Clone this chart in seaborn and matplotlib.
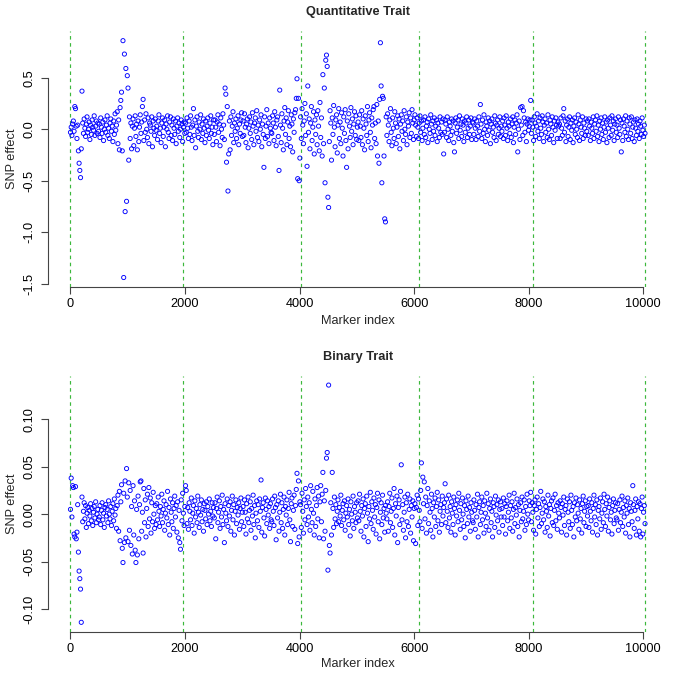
import numpy as np
import pandas as pd
import seaborn as sns
from matplotlib import pyplot as plt

# chromosome boundaries (marker index) drawn as dashed green lines
chrom_bounds = [0, 1970, 4030, 6080, 8070, 10030]
n_markers = 10030

# SNP effects, quantitative trait (units of 0.01), read left to right
quant_effect = [
    -3, 2, -6, 5, 8, -2, 22, 20, 3, -9, 4, -21, -33, -40, -47, -19, 37, 6, -4, 10, 1, -7, 5, 12, -3, 0, 7, -10, 4, -5, 9, 2, -1, 13, -6, 3, 8, -4, 6, -2,
    5, -8, 11, 2, -4, 7, -11, 0, 9, -3, 4, 13, -6, 1, -9, 6, 10, -2, 3, -12, 8, -5, 15, -1, 4, 17, -14, 9, -20, 21, 28, 36, -21, 86, -144, 73, -80, 59, -70, 52,
    40, -30, 12, -9, 6, -19, 3, 10, -16, 1, 13, -7, 5, -20, 8, -12, 2, 14, -4, 7, 22, 29, -11, 9, -3, 15, 0, -8, 11, -14, 6, 4, -2, 12, -17, 8, 1, -6, 10, -1,
    3, -10, 8, 14, -4, 1, -13, 6, 11, -7, 2, 9, -17, 5, 0, 13, -3, -9, 7, 12, -6, 4, -11, 10, 1, -5, 8, -14, 3, 11, -2, 6, -8, 0, 9, 5, -12, 2, 7, -4,
    6, -3, 11, 1, -9, 8, -5, 13, 2, -11, 4, 20, -6, 9, -18, 3, 12, -2, -8, 7, 0, 14, -10, 5, -4, 10, 1, -13, 8, -6, 3, 11, -1, -9, 6, 13, -4, 2, -15, 9,
    -5, 9, 2, -12, 7, 14, -3, 5, -16, 11, 0, -8, 15, 4, -10, 40, 34, -32, 22, -60, -24, 8, -20, 12, -6, 3, 17, -13, 6, -2, 10, -9, 1, 13, -15, 5, -4, 9, 16, -7,
    8, -6, 15, 2, -13, 5, 10, -18, 1, 12, -4, 7, -10, 16, 3, -15, 6, 11, -2, 18, -8, 4, -12, 9, 0, 14, -17, 5, -5, -37, 12, -9, 3, 19, -7, 6, -14, 11, 1, -3,
    -4, 13, 6, -11, 17, 2, -16, 9, 12, -7, -40, 38, 4, -13, 15, 1, -20, 8, 21, -5, 11, -15, 7, 18, -9, 3, -17, 14, 5, -22, 10, -3, 16, 19, 30, 49, -48, 30, -50, -28,
    12, -9, 20, 4, -14, 8, 25, -6, 15, -36, 42, -3, 10, -19, 6, 22, -11, 2, 17, -24, 9, -5, 14, -15, 18, 3, -21, 26, -8, 11, -26, 53, -14, 40, -52, 67, 72, 61, -66, -76,
    -12, 18, 6, -30, 11, -5, 23, 2, -17, 9, 14, -23, 4, 20, -9, 7, -14, 16, 1, -26, 12, -4, 19, -11, -37, 8, -19, 15, 3, -8, 21, -2, 10, -15, 5, 17, -6, 13, -10, 2,
    7, -11, 14, 3, -8, 18, -15, 10, 1, -20, 13, 5, -6, 22, -12, 9, 16, -3, -18, 11, 4, 19, 22, -9, 6, -14, 24, -26, 8, -33, 29, 84, 42, -52, 32, 30, -26, -87, -90, 12,
    -6, 15, 4, -12, 9, 20, -3, -16, 11, 1, -9, 17, 6, -14, 2, 13, -7, 10, -19, 5, 14, -2, 8, -11, 18, 0, -5, 12, -15, 7, 3, 16, -8, 11, -4, 19, 6, -10, 9, 14,
    4, -7, 11, 2, -9, 6, 13, -3, 8, -11, 1, 9, -5, 12, -8, 3, 7, -13, 10, 0, -4, 14, 5, -10, 8, -2, 11, -6, 3, 9, -12, 6, 1, -8, 12, -3, 7, -5, 10, -24,
    -3, 9, 5, -8, 12, 0, -11, 7, 3, -6, 10, -2, 8, -13, -22, 6, 11, -4, 2, 9, -9, 13, -1, 5, -7, 10, 4, -12, 8, -3, 6, 12, -8, 1, 9, -5, 3, 11, -10, 7,
    6, -5, 10, 1, -10, 8, 3, -7, 12, -2, 24, 5, -9, 9, -4, 14, 0, -12, 7, 3, -6, 11, -1, 8, -14, 5, 10, -3, 2, -8, 13, 6, -11, 4, 9, -5, 1, 12, -7, 3,
    -2, 8, -9, 11, 4, -6, 13, 1, -11, 7, 3, -4, 10, -8, 5, 12, -13, 2, 9, -5, 6, 14, -22, 0, 8, -10, 21, 4, 22, -6, 18, 11, -3, 7, -12, 5, 10, -1, 3, 9,
    28, -4, 9, 2, -11, 12, 6, -7, 3, 15, -2, 8, -9, 11, 1, -5, 13, 7, -12, 4, 10, -3, 6, -8, 14, 0, -10, 9, 5, -6, 12, 2, -13, 8, -1, 11, 4, -9, 7, 3,
    5, -9, 11, 1, -6, 13, 20, -3, 8, -12, 4, 10, -7, 2, 12, -10, 6, -1, 9, -13, 3, 11, -5, 7, 0, -8, 14, 5, -11, 9, 2, -4, 12, -9, 6, 1, -6, 10, -2, 8,
    -6, 10, 3, -11, 7, 1, -4, 12, -9, 5, 9, -2, 13, -7, 4, -12, 8, 0, 11, -5, 6, -10, 2, 12, -3, 7, -13, 9, 1, -8, 11, 4, -6, 13, -1, 8, -11, 5, 10, -3,
    4, -8, 12, 1, -5, 9, -22, 6, -11, 10, 3, -3, 13, -7, 8, 0, -10, 11, 5, -4, 12, -9, 2, 7, -12, 9, 1, -6, 10, -2, 5, -9, 8, 3, -5, 11, -1, -7, 4, -4,
]

# SNP effects, binary trait (units of 0.001)
binary_effect = [
    5, 38, -3, 30, 28, -21, -24, 29, -26, -19, 10, -40, -60, -68, -79, -114, 18, -8, 3, 12, -5, 9, -14, 1, 7, -10, 4, -2, 11, -7, 6, -12, 2, 8, -4, 13, -9, 0, 5, -6,
    -3, 9, -11, 4, 12, -6, 1, -14, 7, 10, -2, 5, -9, 14, 0, -5, 8, -12, 3, 11, -7, 16, -1, 6, -15, 9, 20, -18, 24, -28, 13, 31, -36, -51, 22, -30, 35, -25, 48, 18,
    -29, 33, -17, 25, -33, 8, -42, 30, -22, 14, -38, -51, 5, -43, 19, -26, 10, 34, 35, -18, 2, -41, 27, -9, 15, -24, 6, 21, -13, 28, -5, 17, -20, 12, -8, 23, 0, -15, 9, -11,
    11, -6, 18, 3, -13, 8, -2, 21, -9, 5, 14, -17, 1, 10, -4, 24, -11, 7, -22, 16, 2, -8, 12, -15, 6, 19, -3, 9, -19, 13, -25, 4, -30, -37, 15, -7, 22, 1, -12, 8,
    30, 25, -10, 7, -16, 12, 3, -6, 17, -12, 1, 9, -20, 14, -3, 6, -9, 19, 2, -14, 10, -1, 15, -8, 5, -18, 11, 4, -5, 13, -11, 8, 0, 16, -7, 3, -13, 12, -2, 7,
    -4, 12, -26, 6, 18, -9, 2, 14, -15, 8, -3, 20, -11, 5, -30, 11, 1, -7, 16, -13, 9, -2, 13, -18, 4, 19, -6, 10, -22, 3, 15, -10, 7, -1, 12, -16, 6, 17, -8, 2,
    8, -13, 15, 2, -21, 11, -5, 18, -9, 4, 13, -17, 6, -2, 20, -11, 9, -25, 1, 14, -7, 10, -14, 16, 3, 36, -19, 7, 12, -4, -23, 17, 5, -10, 14, -1, 8, -15, 11, -6,
    -8, 16, 3, -12, 19, 7, -27, 10, -4, 14, -18, 2, 21, -9, 12, -15, 5, 18, -22, 8, -1, 15, -11, 6, 23, -6, -29, 11, 17, -13, 4, 20, -16, 9, 26, 43, -31, 35, -24, 13,
    10, -14, 22, 3, -20, 15, -6, 27, 8, -11, 18, -3, 12, -17, 30, 5, -9, 24, 1, -22, 16, -13, 9, 28, -5, 19, -25, 13, 30, -8, 21, 44, -26, 14, -18, 25, 59, 65, -59, 136,
    -33, -41, 12, -22, 44, 6, -14, 18, -5, 10, -10, 3, 15, -8, 7, -2, 20, -12, 4, 11, -6, 14, -17, 1, 9, -3, 16, -11, 5, -23, 13, 0, -7, 19, -15, 8, 2, -9, 12, -4,
    14, -7, 21, 3, -18, 9, -2, 16, -24, 6, 11, -13, 19, 1, -29, 8, -5, 23, -10, 13, 4, -16, 17, -3, 10, -21, 7, 22, -8, 15, -26, 2, 12, -11, 20, -4, 6, -19, 9, 1,
    -5, 13, -18, 8, 22, -9, 3, 17, -14, 6, 27, -22, 11, -2, 19, -30, 7, 15, -11, 24, 52, -6, 10, -17, 2, 18, -25, 12, -8, 21, -13, 5, 16, -20, 9, -3, 14, -28, 6, 11,
    -31, 7, 20, -12, 16, 4, -8, 25, 54, -15, 39, 11, 34, -5, 18, -20, 9, 27, -10, 14, 2, -17, 21, 6, -24, 12, -3, 17, -13, 8, 23, -7, 15, -19, 3, 10, -11, 19, -2, 7,
    12, 32, -9, 16, 3, -14, 20, -4, 8, -19, 13, 1, -11, 18, 6, -22, 10, -2, 15, -8, 22, 4, -16, 11, -6, 17, 0, -13, 9, -25, 14, 5, -10, 19, -3, 7, -18, 12, 2, -7,
    -9, 15, 4, -16, 10, -3, 21, -24, 7, 13, -11, 2, 18, -6, 9, -20, 14, 1, -13, 22, -4, 11, -17, 6, 16, -9, 3, -24, 12, 8, -14, 19, -1, 10, -7, 15, -19, 5, 13, -3,
    6, -12, 17, -3, 11, -21, 8, 14, -7, 2, 20, -15, 9, -4, 13, -18, 5, 22, -10, 7, -1, 16, -13, 10, -24, 4, 12, -8, 18, -5, 3, 15, -17, 8, -11, 21, 0, -6, 14, 9,
    23, -8, 12, 2, -17, 9, 15, -21, 5, 18, -4, 11, -13, 7, 24, -10, 1, 16, -6, 13, -19, 8, 3, -14, 20, -2, 10, -23, 6, 14, -9, 17, -12, 4, 21, -7, 9, -16, 12, 1,
    -4, 14, 7, -19, 11, -1, 18, -12, 5, 9, -22, 16, 2, -8, 13, -15, 20, 4, -11, 8, -24, 12, -3, 17, -7, 10, 1, -16, 15, -5, 6, -20, 11, 19, -9, 3, 14, -13, 8, -2,
    9, -14, 16, 3, -7, 12, -19, 6, 20, -3, 10, -11, 15, -22, 4, 8, -5, 17, -16, 1, 13, -9, 21, 5, -13, 11, -2, 18, -18, 7, 14, -6, 2, -21, 9, 16, -10, 4, 12, -4,
    -6, 11, -17, 5, 15, -9, 2, 19, -13, 7, -3, 14, -20, 9, 1, 17, -11, 6, -24, 12, 3, -8, 30, 10, -15, 4, 16, -22, 8, -5, 13, -18, 11, -24, 6, 18, -21, 2, 9, -10,
]

panels = [
    ('Quantitative Trait', np.array(quant_effect) / 100, [-1.5, -1.0, -0.5, 0.0, 0.5], ['-1.5', '-1.0', '-0.5', '0.0', '0.5']),
    ('Binary Trait', np.array(binary_effect) / 1000, [-0.10, -0.05, 0.0, 0.05, 0.10], ['-0.10', '-0.05', '0.00', '0.05', '0.10']),
]
x_ticks = [0, 2000, 4000, 6000, 8000, 10000]

sns.set_style('white')
plt.rcParams['font.family'] = ['Liberation Sans', 'DejaVu Sans']

W, H = 685, 687
fig = plt.figure(figsize=(W / 100, H / 100), dpi=100)

# axes boxes in pixels: (left, top, right, bottom)
boxes = [(47.5, 31.2, 668, 287), (47.5, 375.6, 668, 631.8)]
title_y = [11.7, 356.7]
xlabel_y = [321, 664]
ylabel_x = 11.7

fs = 9.2
for (title, eff, yt, ytl), (l, t, r, b), ty, xly in zip(panels, boxes, title_y, xlabel_y):
    ax = fig.add_axes([l / W, 1 - b / H, (r - l) / W, (b - t) / H])
    df = pd.DataFrame({'marker': np.linspace(0, n_markers, len(eff)), 'effect': eff})
    sns.scatterplot(data=df, x='marker', y='effect', ax=ax, marker='o', s=9,
                    fc='none', ec='#0000ff', linewidth=0.65, legend=False, zorder=3)
    for cb in chrom_bounds:
        ax.axvline(cb, color='#3cb83c', lw=0.85, ls=(0, (3, 3)), zorder=1)

    rng = n_markers
    ax.set_xlim(-0.04 * rng, n_markers + 0.04 * rng)
    ymin, ymax = eff.min(), eff.max()
    pad = 0.04 * (ymax - ymin)
    ax.set_ylim(ymin - pad, ymax + pad)

    ax.set_xticks(x_ticks)
    ax.set_xticklabels([str(v) for v in x_ticks])
    ax.set_yticks(yt)
    ax.set_yticklabels(ytl, rotation=90, va='center')
    for s in ['top', 'right']:
        ax.spines[s].set_visible(False)
    ax.spines['left'].set_bounds(yt[0], yt[-1])
    ax.spines['bottom'].set_bounds(0, 10000)
    for s in ['left', 'bottom']:
        ax.spines[s].set_color('#444444')
        ax.spines[s].set_linewidth(0.8)
    ax.tick_params(axis='both', direction='out', length=5, width=0.8, color='#444444',
                   labelsize=fs, labelcolor='black', left=True, bottom=True)
    ax.tick_params(axis='x', pad=3)
    ax.tick_params(axis='y', pad=3.5)
    ax.set_xlabel('')
    ax.set_ylabel('')
    ax.grid(False)

    fig.text(0.5 * (l + r) / W, 1 - ty / H, title, ha='center', va='center', fontsize=fs, fontweight='bold')
    fig.text(0.5 * (l + r) / W, 1 - xly / H, 'Marker index', ha='center', va='center', fontsize=fs)
    fig.text(ylabel_x / W, 1 - 0.5 * (t + b) / H, 'SNP effect', ha='center', va='center', rotation=90, fontsize=fs)

fig.savefig('out.png', dpi=100)
